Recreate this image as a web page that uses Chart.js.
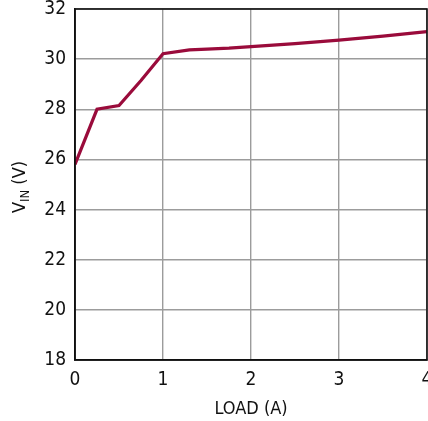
<!DOCTYPE html>
<html>
<head>
<meta charset="utf-8">
<script src="https://cdn.jsdelivr.net/npm/chart.js@4"></script>
<style>
  html, body { margin: 0; padding: 0; background: #fff; }
  #wrap { width: 428px; height: 421px; }
</style>
</head>
<body>
<div id="wrap"><canvas id="myChart" width="428" height="421"></canvas></div>
<script>
// 데이터
const loadA = [0, 0.25, 0.5, 0.75, 1.0, 1.3, 1.5, 1.75, 2.0, 2.25, 2.5, 2.75, 3.0, 3.25, 3.5, 3.75, 4.0];
const vinV = [25.8, 28.0, 28.15, 29.15, 30.22, 30.37, 30.4, 30.44, 30.5, 30.56, 30.62, 30.69, 30.76, 30.84, 30.92, 31.01, 31.1];
const xTicks = [0, 1, 2, 3, 4];
const yTicks = [18, 20, 22, 24, 26, 28, 30, 32];

const FONT = "'Liberation Sans Narrow', 'DejaVu Sans Condensed', sans-serif";
const lineColor = '#9a0b3b';

// 축 제목 그리기 (V 아래첨자 IN)
const axisTitles = {
  id: 'axisTitles',
  afterDraw(chart) {
    const c = chart.ctx;
    c.save();
    c.fillStyle = '#111';
    c.textBaseline = 'alphabetic';
    // x 제목
    c.font = '18px ' + FONT;
    c.textAlign = 'center';
    const area = chart.chartArea;
    c.fillText('LOAD (A)', (area.left + area.right) / 2, 414);
    // y 제목
    c.translate(25, 187);
    c.rotate(-Math.PI / 2);
    c.textAlign = 'left';
    c.font = '18px ' + FONT;
    const wV = c.measureText('V').width;
    c.font = '13px ' + FONT;
    const wIN = c.measureText('IN').width;
    c.font = '18px ' + FONT;
    const wRest = c.measureText(' (V)').width;
    let x = -(wV + wIN + wRest) / 2;
    c.fillText('V', x, 0);
    x += wV;
    c.font = '13px ' + FONT;
    c.fillText('IN', x, 4);
    x += wIN;
    c.font = '18px ' + FONT;
    c.fillText(' (V)', x, 0);
    c.restore();
  }
};

const ctx = document.getElementById('myChart');
const chart = new Chart(ctx, {
  type: 'line',
  data: {
    datasets: [{
      data: loadA.map((x, i) => ({ x: x, y: vinV[i] })),
      borderColor: lineColor,
      borderWidth: 3.2,
      pointRadius: 0,
      tension: 0,
      fill: false
    }]
  },
  options: {
    responsive: false,
    animation: false,
    layout: { padding: { top: 9, right: 1, left: 0, bottom: 0 } },
    plugins: { legend: { display: false }, tooltip: { enabled: false } },
    scales: {
      x: {
        type: 'linear',
        min: 0, max: 4,
        afterBuildTicks: s => { s.ticks = xTicks.map(v => ({ value: v })); },
        afterFit: s => { s.height = 61; s.paddingLeft = 0; s.paddingRight = 0; },
        ticks: { color: '#111', font: { family: FONT, size: 19 }, padding: 9, maxRotation: 0 },
        grid: { color: '#9c9c9c', lineWidth: 1.4, drawTicks: false },
        border: { color: '#111', width: 1.6 }
      },
      y: {
        min: 18, max: 32,
        afterBuildTicks: s => { s.ticks = yTicks.map(v => ({ value: v })); },
        afterFit: s => { s.width = 75; s.paddingTop = 0; s.paddingBottom = 0; },
        ticks: { color: '#111', font: { family: FONT, size: 19 }, padding: 9 },
        grid: { color: '#9c9c9c', lineWidth: 1.4, drawTicks: false },
        border: { color: '#111', width: 1.6 }
      }
    }
  },
  plugins: [axisTitles, {
    id: 'frame',
    afterDatasetsDraw(chart) {
      const c = chart.ctx, a = chart.chartArea;
      c.save();
      c.strokeStyle = '#111';
      c.lineWidth = 1.6;
      c.strokeRect(a.left, a.top, a.right - a.left, a.bottom - a.top);
      c.restore();
    }
  }]
});
</script>
</body>
</html>
